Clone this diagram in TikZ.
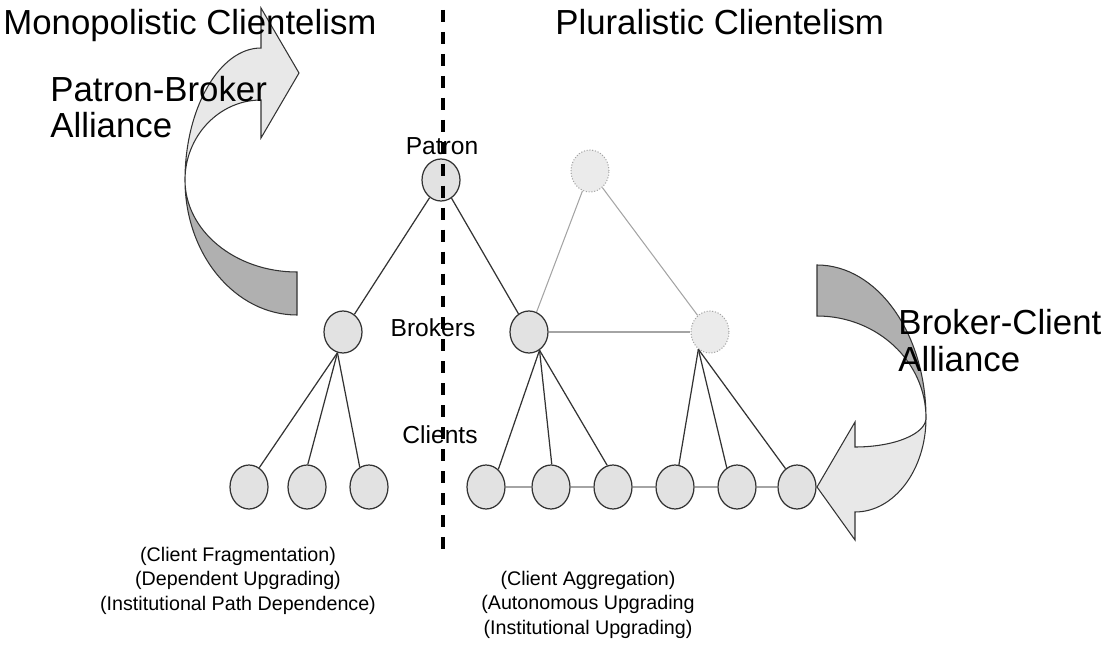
\documentclass[tikz,border=0pt]{standalone}
\usepackage{fontspec}
\setmainfont{Liberation Sans}
\usetikzlibrary{shapes.geometric}
\definecolor{bandlight}{HTML}{E8E8E8}
\definecolor{banddark}{HTML}{B0B0B0}
\definecolor{nodefill}{HTML}{E2E2E2}
\definecolor{edgeline}{HTML}{333333}
\definecolor{ghostline}{HTML}{A4A4A4}
\begin{document}
\begin{tikzpicture}[x=0.02cm,y=-0.02cm,
  actor/.style={ellipse, draw=edgeline, fill=nodefill, line width=0.7pt,
    minimum width=0.76cm, minimum height=0.84cm, inner sep=0pt},
  client/.style={actor, minimum height=0.88cm},
  ghost/.style={ellipse, draw=ghostline, fill=nodefill!70, densely dotted,
    line width=0.6pt, minimum width=0.76cm, minimum height=0.84cm, inner sep=0pt},
  tie/.style={draw=edgeline, line width=0.7pt},
  ghosttie/.style={draw=ghostline, line width=0.6pt},
  band/.style={draw=edgeline, line width=0.6pt},
  headline/.style={font=\fontsize{19.8}{21}\selectfont, inner sep=0pt, anchor=base west},
  tierlabel/.style={font=\fontsize{14}{16}\selectfont, inner sep=0pt, anchor=base},
  outcome/.style={font=\fontsize{11.2}{13.9}\selectfont, align=center, inner sep=0pt, anchor=base},
  divider/.style={line width=1.9pt, dash pattern=on 6.8pt off 5.7pt}]

\useasboundingbox (0,0) rectangle (1109,645);

% curved arrow of the patron-broker alliance (back side dark, front side light)
\path[band, fill=banddark] (185,180) .. controls (185,254.5) and (235.2,315) .. (297,315)
  -- (297,272) .. controls (235.2,272) and (185,230.8) .. (185,180) -- cycle;
\path[band, fill=bandlight] (185,180) .. controls (185,108.2) and (219.5,48) .. (261,48)
  -- (261,8) -- (299,73) -- (261,138) -- (261,100)
  .. controls (219.5,100) and (185,135.8) .. (185,180) -- cycle;

% curved arrow of the broker-client alliance
\path[band, fill=banddark] (817,265) .. controls (877.2,265) and (926,333.5) .. (926,418)
  .. controls (926,361.7) and (877.2,316) .. (817,316) -- cycle;
\path[band, fill=bandlight] (926,418) .. controls (926,469.9) and (894.2,512) .. (855,512)
  -- (855,540) -- (817,487) -- (855,422) -- (855,447)
  .. controls (894.2,447) and (926,434) .. (926,418) -- cycle;

% actors
\node[actor] (pat) at (441,180) {};
\node[ghost] (gpat) at (590,171) {};
\node[actor] (lb) at (343,332) {};
\node[actor] (mb) at (529,332) {};
\node[ghost] (gb) at (710,332) {};
\foreach \n/\x in {l1/249, l2/307, l3/369, r1/486, r2/551, r3/613, r4/675, r5/737, r6/797}
  \node[client] (\n) at (\x,487) {};

% ties
\draw[ghosttie] (gpat) -- (mb);
\draw[ghosttie] (gpat) -- (gb);
\draw[ghosttie] (mb) -- (gb);
\draw[ghosttie] (r1) -- (r2) -- (r3) -- (r4) -- (r5) -- (r6);
\draw[tie] (pat) -- (lb);
\draw[tie] (pat) -- (mb);
\draw[tie] (lb.255) -- (l1.62);
\draw[tie] (lb.255) -- (l2.88);
\draw[tie] (lb.255) -- (l3.115);
\draw[tie] (mb.300) -- (r1.55);
\draw[tie] (mb.300) -- (r2.88);
\draw[tie] (mb.300) -- (r3.105);
\draw[tie] (gb.236) -- (r4.80);
\draw[tie] (gb.236) -- (r5.118);
\draw[tie] (gb.236) -- (r6.122);

% texts
\node[headline] (mono) at (3,35) {Monopolistic Clientelism};
\node[headline] (plur) at (555,35) {Pluralistic Clientelism};
\node[headline, align=left] (pba) at (50,138) {Patron-Broker\\Alliance};
\node[headline, align=left] (bca) at (898,371) {Broker-Client\\Alliance};
\node[tierlabel] (tpat) at (442,155) {Patron};
\node[tierlabel] (tbro) at (433,337) {Brokers};
\node[tierlabel] (tcli) at (440,443) {Clients};
\node[outcome] (lout) at (238,610) {(Client Fragmentation)\\(Dependent Upgrading)\\(Institutional Path Dependence)};
\node[outcome] (rout) at (588,634) {(Client Aggregation)\\(Autonomous Upgrading\\(Institutional Upgrading)};

% dividing line between the two regimes
\coordinate (dtop) at (443,10);
\coordinate (dbot) at (443,555);
\draw[divider] (dtop) -- (dbot);
\end{tikzpicture}
\end{document}
